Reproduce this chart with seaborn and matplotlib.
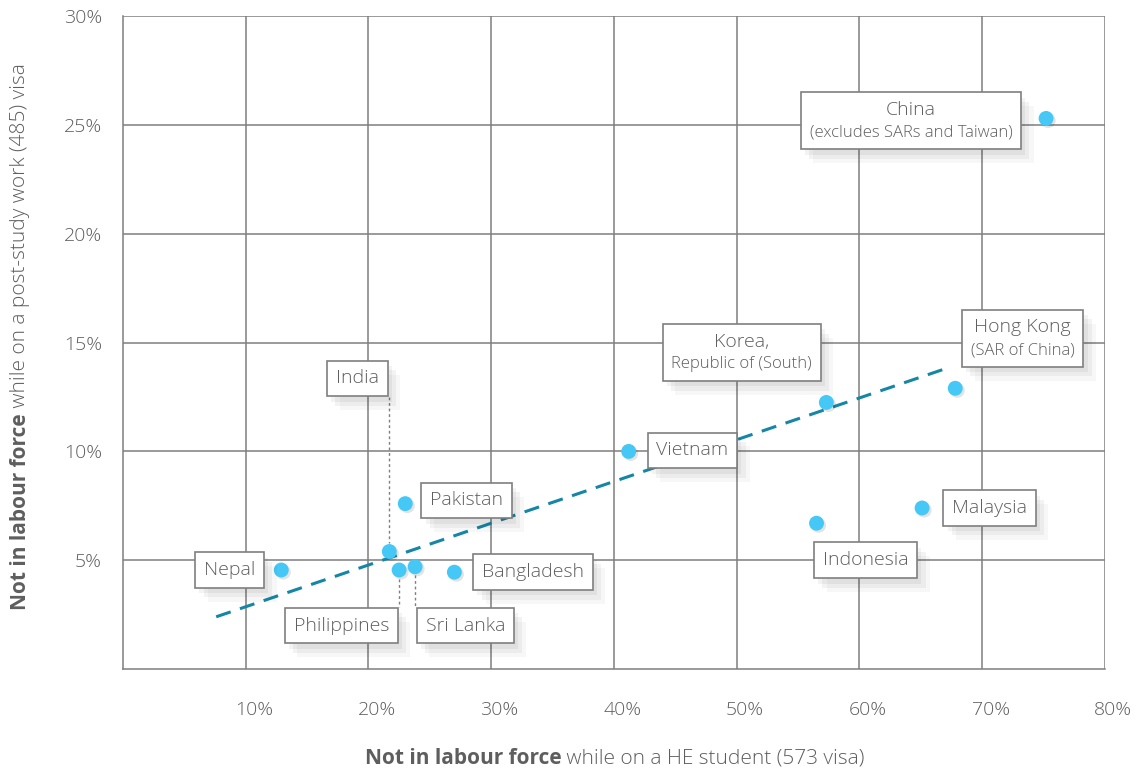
import matplotlib
matplotlib.use('Agg')
import matplotlib.pyplot as plt
import matplotlib.patheffects as pe
import matplotlib.transforms as mtransforms
from matplotlib.offsetbox import TextArea, VPacker, AnnotationBbox
import seaborn as sns
import pandas as pd

# values (percent)
countries = ["Nepal", "India", "Pakistan", "Philippines", "Sri Lanka", "Bangladesh",
             "Vietnam", "Korea", "Hong Kong", "Indonesia", "Malaysia", "China"]
student_nilf = [12.9, 21.7, 23.0, 22.5, 23.8, 27.0, 41.2, 57.3, 67.8, 56.5, 65.1, 75.2]
poststudy_nilf = [4.55, 5.4, 7.6, 4.55, 4.7, 4.45, 10.0, 12.25, 12.9, 6.7, 7.4, 25.3]

# trend line end points
trend_x = [7.6, 67.0]
trend_y = [2.4, 13.8]

# label boxes: main text, sub text, box centre
label_main = ["Nepal", "India", "Pakistan", "Philippines", "Sri Lanka", "Bangladesh",
              "Vietnam", "Korea,", "Hong Kong", "Indonesia", "Malaysia", "China"]
label_sub = ["", "", "", "", "", "", "", "Republic of (South)", "(SAR of China)",
             "", "", "(excludes SARs and Taiwan)"]
label_x = [8.7, 19.1, 28.0, 17.8, 27.9, 33.4, 46.4, 50.4, 73.3, 60.5, 70.6, 64.2]
label_y = [4.55, 13.35, 7.75, 2.0, 2.0, 4.45, 10.05, 14.55, 15.2, 5.0, 7.4, 25.2]

# dotted leader lines (x, y from, y to)
leaders = [(21.7, 12.5, 5.8), (22.5, 4.15, 2.84), (23.8, 4.3, 2.84)]

TEXT = "#5e5e5e"
GRID = "#7f7f7f"
DOT = "#45C8F5"
TREND = "#1586A6"
FONT = ['Open Sans', 'DejaVu Sans']

sns.set_theme(style="white")
plt.rcParams['font.family'] = FONT

df = pd.DataFrame({"country": countries, "x": student_nilf, "y": poststudy_nilf})

fig = plt.figure(figsize=(11.38, 7.69), dpi=100)
ax = fig.add_axes([0.108, 0.130, 0.863, 0.849])

# points
sns.scatterplot(data=df, x="x", y="y", ax=ax, color=DOT, s=115, edgecolor='none',
                zorder=4, legend=False)
for coll in ax.collections:
    coll.set_path_effects([pe.SimplePatchShadow(offset=(1.5, -1.5), alpha=0.12,
                                                shadow_rgbFace='k'),
                           pe.Normal()])

ax.set_xlim(0, 80)
ax.set_ylim(0, 30)
ax.set_xlabel('')
ax.set_ylabel('')
ax.set_xticks(range(10, 81, 10))
ax.set_yticks(range(5, 31, 5))
ax.set_xticklabels([f"{v}%" for v in range(10, 81, 10)])
ax.set_yticklabels([f"{v}%" for v in range(5, 31, 5)])
ax.grid(True, color=GRID, lw=1.1, zorder=0)
ax.set_axisbelow(True)
for s in ax.spines.values():
    s.set_color(GRID)
    s.set_linewidth(1.1)
ax.spines['top'].set_visible(False)
ax.spines['right'].set_visible(False)
ax.tick_params(axis='both', colors=GRID, length=12, width=1.1, direction='out',
               labelcolor=TEXT, labelsize=14)
ax.tick_params(axis='x', pad=11)
ax.tick_params(axis='y', pad=3)
shift = mtransforms.ScaledTranslation(6 / 72, 0, fig.dpi_scale_trans)
for lab in ax.get_xticklabels():
    lab.set_fontweight('light')
    lab.set_transform(lab.get_transform() + shift)
for lab in ax.get_yticklabels():
    lab.set_fontweight('light')

# trend line
ax.plot(trend_x, trend_y, color=TREND, lw=2.2, ls=(0, (5, 3.2)), zorder=2)

# leader lines
for lx, y0, y1 in leaders:
    ax.plot([lx, lx], [y0, y1], color=GRID, lw=1, ls=(0, (2, 2)), zorder=2)

box_shadow = [pe.SimplePatchShadow(offset=(3, -4), alpha=0.05, shadow_rgbFace='k'),
              pe.SimplePatchShadow(offset=(6, -7), alpha=0.05, shadow_rgbFace='k'),
              pe.SimplePatchShadow(offset=(9, -10), alpha=0.03, shadow_rgbFace='k'),
              pe.Normal()]

for main, sub, bx, by in zip(label_main, label_sub, label_x, label_y):
    parts = [TextArea(main, textprops=dict(fontsize=14, color=TEXT, fontweight='light'))]
    if sub:
        parts.append(TextArea(sub, textprops=dict(fontsize=12, color=TEXT,
                                                  fontweight='light')))
    pack = VPacker(children=parts, align='center', pad=0, sep=4)
    ab = AnnotationBbox(pack, (bx, by), xycoords='data', frameon=True, pad=0.45,
                        fontsize=14, zorder=5,
                        bboxprops=dict(fc='white', ec=GRID, lw=1.2))
    ab.patch.set_path_effects(box_shadow)
    ax.add_artist(ab)

# axis titles with a bold lead-in
renderer = fig.canvas.get_renderer()


def two_part_label(cx, cy, bold, rest, rotation=0, size=14.5):
    kw = dict(fontsize=size, color=TEXT, rotation=rotation)
    t1 = fig.text(0, 0, bold, fontweight='bold', **kw)
    t2 = fig.text(0, 0, rest, fontweight='light', **kw)
    b1 = t1.get_window_extent(renderer)
    b2 = t2.get_window_extent(renderer)
    W, H = fig.bbox.width, fig.bbox.height
    if rotation == 0:
        total = b1.width + b2.width
        x0 = cx * W - total / 2
        t1.set_position((x0 / W, cy))
        t2.set_position(((x0 + b1.width) / W, cy))
        for t in (t1, t2):
            t.set_ha('left')
            t.set_va('center')
    else:
        total = b1.height + b2.height
        y0 = cy * H - total / 2
        t1.set_position((cx, y0 / H))
        t2.set_position((cx, (y0 + b1.height) / H))
        for t in (t1, t2):
            t.set_ha('center')
            t.set_va('bottom')


two_part_label(0.54, 0.014, "Not in labour force", " while on a HE student (573 visa)",
               size=15)
two_part_label(0.018, 0.562, "Not in labour force",
               " while on a post-study work (485) visa", rotation=90, size=15)

plt.savefig("out.png", dpi=100, facecolor='white')
plt.close()
